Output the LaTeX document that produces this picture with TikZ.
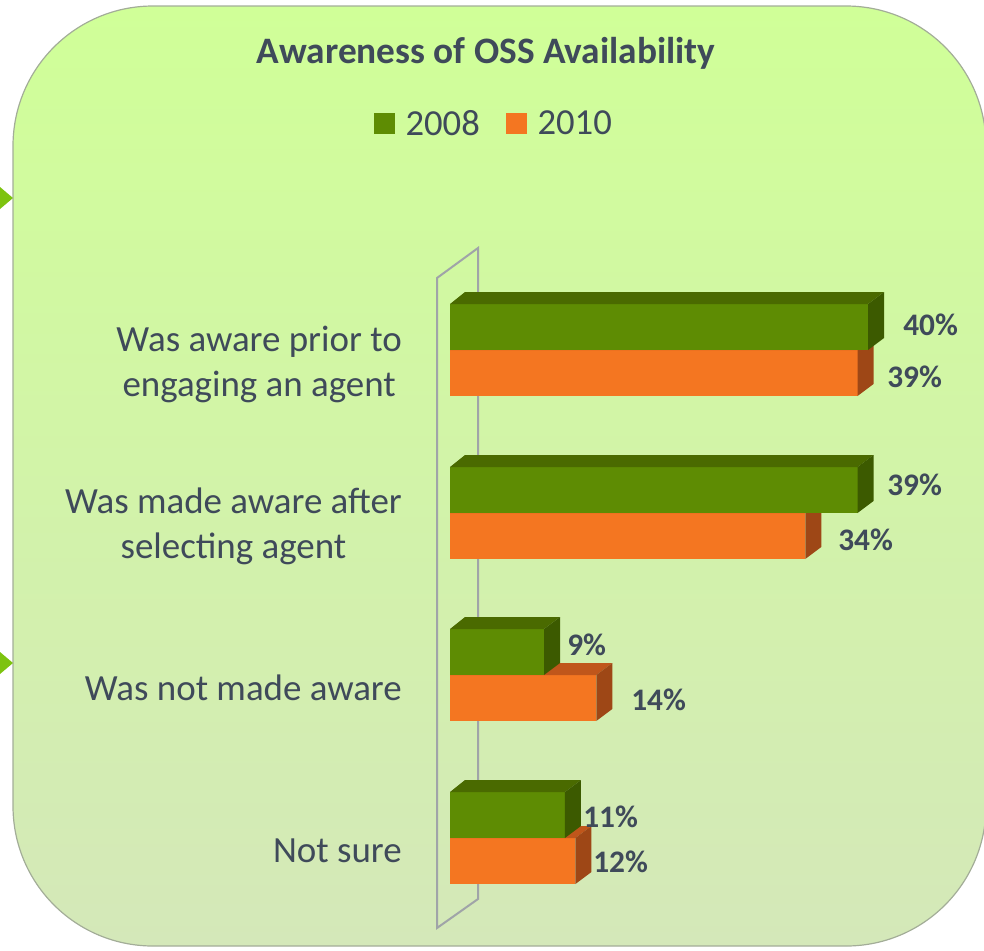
\documentclass[tikz,border=0pt]{standalone}
\usepackage{fontspec}
\setmainfont{Carlito}
\usetikzlibrary{positioning}
\definecolor{panetop}{HTML}{D0FF98}
\definecolor{panebot}{HTML}{D4E8B9}
\definecolor{paneedge}{HTML}{A3AD98}
\definecolor{grnfront}{HTML}{5E8C03}
\definecolor{grntop}{HTML}{4A6A00}
\definecolor{grnside}{HTML}{3C5A00}
\definecolor{orgfront}{HTML}{F47621}
\definecolor{orgtop}{HTML}{C0561B}
\definecolor{orgside}{HTML}{9E4716}
\definecolor{slate}{HTML}{3F4A5A}
\definecolor{wallgray}{HTML}{A0A4A8}
\definecolor{arrgrn}{HTML}{7DC30F}

% one 3D bar: top y, value, front, top and side colours
\newcommand{\barbox}[5]{%
  \fill[#3] (450,#1) rectangle ({450+\s*#2},{#1+46});
  \fill[#4] (450,#1) -- (465,{#1-12}) -- ({450+\s*#2+16},{#1-12}) -- ({450+\s*#2},#1) -- cycle;
  \fill[#5] ({450+\s*#2},#1) -- ({450+\s*#2+16},{#1-12}) -- ({450+\s*#2+16},{#1+34}) -- ({450+\s*#2},{#1+46}) -- cycle;
}

\begin{document}
\begin{tikzpicture}[x=0.75pt, y=-0.75pt,
  cat/.style={text=slate, font=\fontsize{27.7}{33.75}\selectfont, align=center, anchor=east, inner sep=0pt},
  val/.style={text=slate, font=\fontsize{23.5}{27}\selectfont\bfseries, anchor=base west, inner sep=0pt},
  legsq/.style={minimum size=15.75pt, inner sep=0pt},
  legtxt/.style={text=slate, font=\fontsize{27.5}{33}\selectfont, inner sep=0pt}]

\useasboundingbox (0,0) rectangle (984,950);

% Panel
\shade[top color=panetop, bottom color=panebot, rounded corners=105pt] (13,6) rectangle (986,946);
\draw[paneedge, line width=0.9pt, rounded corners=105pt] (13,6) rectangle (986,946);

% Side markers
\fill[arrgrn] (0,187) -- (13,198) -- (0,209) -- cycle;
\fill[arrgrn] (0,652) -- (13,663) -- (0,674) -- cycle;

% Title and legend
\node[text=slate, font=\fontsize{28}{33}\selectfont\bfseries, anchor=base, inner sep=0pt] (title) at (486,63) {Awareness of OSS Availability};
\node[legsq, fill=grnfront] (sq08) at (384.5,123) {};
\node[legtxt, right=7.5pt of sq08] (t08) {2008};
\node[legsq, fill=orgfront] (sq10) at (516.5,123) {};
\node[legtxt, right=7.5pt of sq10] (t10) {2010};

% Axis wall
\draw[wallgray, line width=1.5pt] (437,928) -- (437,278) -- (478,248) -- (478,899) -- cycle;

% Bars (scale: px per percent)
\def\s{10.45}
\foreach \y/\a/\b in {304/40/39, 467/39/34, 629/9/14, 792/11/12} {
  \barbox{\y+46}{\b}{orgfront}{orgtop}{orgside}
  \barbox{\y}{\a}{grnfront}{grntop}{grnside}
}

% Values
\node[val] (v1a) at (903,335) {40\%};
\node[val] (v1b) at (887,387) {39\%};
\node[val] (v2a) at (887,495) {39\%};
\node[val] (v2b) at (838,550) {34\%};
\node[val] (v3a) at (567,655) {9\%};
\node[val] (v3b) at (631,710) {14\%};
\node[val] (v4a) at (583,827) {11\%};
\node[val] (v4b) at (593,872) {12\%};

% Categories
\node[cat] (c1) at (402,364) {Was aware prior to\\engaging an agent};
\node[cat] (c2) at (402,526) {Was made aware after\\selecting agent};
\node[cat] (c3) at (402,688) {Was not made aware};
\node[cat] (c4) at (402,851) {Not sure};

\end{tikzpicture}
\end{document}
